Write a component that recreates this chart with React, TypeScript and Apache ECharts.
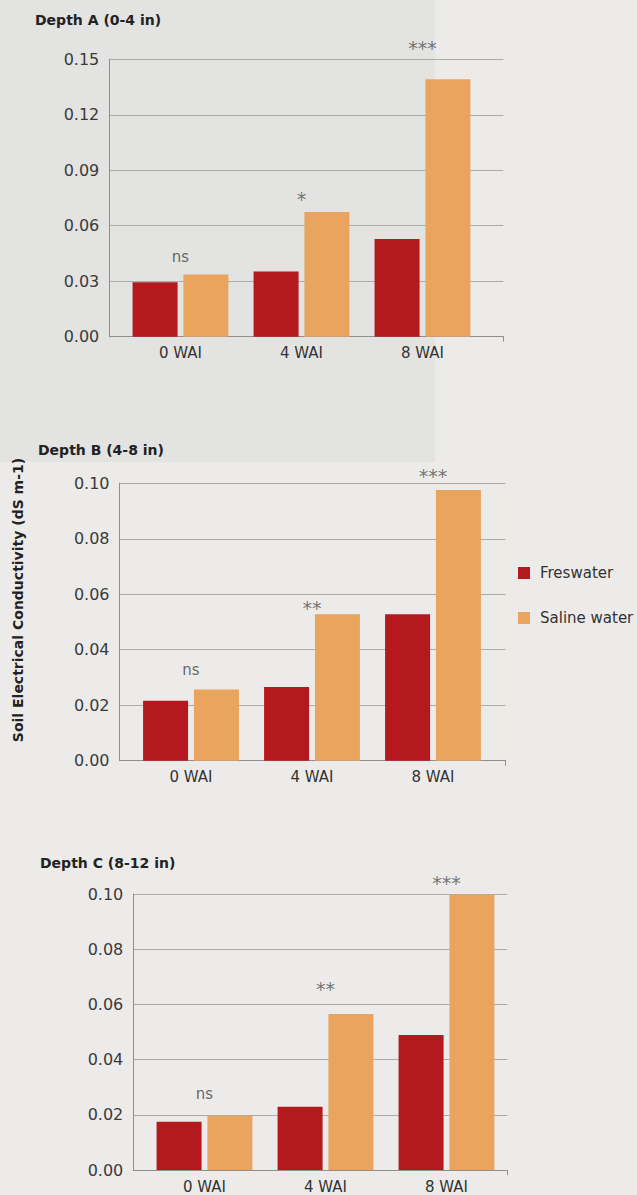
import React, { useEffect, useRef } from "react";
import * as echarts from "echarts";

// ---------- data ----------
const categories = ["0 WAI", "4 WAI", "8 WAI"];
const seriesNames = ["Freswater", "Saline water"];

const freshA = [0.0294, 0.0352, 0.0528];
const salineA = [0.0337, 0.0674, 0.1392];
const freshB = [0.0216, 0.0266, 0.0528];
const salineB = [0.0257, 0.0528, 0.0976];
const freshC = [0.0175, 0.0229, 0.0489];
const salineC = [0.0197, 0.0565, 0.0998];

const sigA = ["ns", "*", "***"];
const sigB = ["ns", "**", "***"];
const sigC = ["ns", "**", "***"];
// height (in dS m-1) at which each significance mark sits
const sigHeightA = [0.0429, 0.0745, 0.156];
const sigHeightB = [0.0328, 0.0551, 0.1028];
const sigHeightC = [0.0275, 0.0656, 0.1039];

const titles = ["Depth A (0-4 in)", "Depth B (4-8 in)", "Depth C (8-12 in)"];
const yMax = [0.15, 0.1, 0.1];
const yInterval = [0.03, 0.02, 0.02];
const yTitle = "Soil Electrical Conductivity (dS m-1)";

// ---------- layout / style ----------
const FONT = "DejaVu Sans";
const RED = "#b3191d";
const ORANGE = "#e9a45e";
const layout = [
  { axisLeft: 109.3, axisWidth: 394, barLeft: 120, top: 59.3, height: 277.4, titleX: 35, titleY: 20 },
  { axisLeft: 119.5, axisWidth: 386, barLeft: 130.5, top: 483.3, height: 277.4, titleX: 38, titleY: 450 },
  { axisLeft: 133.3, axisWidth: 373.7, barLeft: 144, top: 894, height: 276, titleX: 40, titleY: 863 },
];
const BAR_GRID_WIDTH = 363;

const panels = [
  { fresh: freshA, saline: salineA, sig: sigA, sigH: sigHeightA },
  { fresh: freshB, saline: salineB, sig: sigB, sigH: sigHeightB },
  { fresh: freshC, saline: salineC, sig: sigC, sigH: sigHeightC },
];

function buildOption() {
  const grid: any[] = [];
  const xAxis: any[] = [];
  const yAxis: any[] = [];
  const series: any[] = [];
  const graphic: any[] = [
    {
      type: "rect",
      z: -10,
      silent: true,
      shape: { x: 0, y: 0, width: 435, height: 462 },
      style: { fill: "#e3e3e2" },
    },
    {
      type: "text",
      x: 18,
      y: 600,
      rotation: Math.PI / 2,
      style: {
        text: yTitle,
        font: `bold 14px "${FONT}"`,
        fill: "#222",
        textAlign: "center",
        textVerticalAlign: "middle",
      },
    },
  ];

  panels.forEach((p, i) => {
    const L = layout[i];
    const gA = 2 * i;
    const gB = 2 * i + 1;
    grid.push({ left: L.axisLeft, top: L.top, width: L.axisWidth, height: L.height });
    grid.push({ left: L.barLeft, top: L.top, width: BAR_GRID_WIDTH, height: L.height });

    xAxis.push({
      type: "value",
      gridIndex: gA,
      min: 0,
      max: 1,
      interval: 1,
      axisLine: { show: true, onZero: false, lineStyle: { color: "#8f8f8f", width: 1 } },
      axisTick: { show: true, customValues: [1], length: 5, lineStyle: { color: "#8f8f8f" } },
      axisLabel: { show: false },
      splitLine: { show: false },
    });
    xAxis.push({
      type: "category",
      gridIndex: gB,
      data: categories,
      axisLine: { show: false },
      axisTick: { show: false },
      axisLabel: { fontSize: 15, color: "#333", margin: 9, fontFamily: FONT },
    });

    yAxis.push({
      type: "value",
      gridIndex: gA,
      min: 0,
      max: yMax[i],
      interval: yInterval[i],
      axisLine: { show: true, lineStyle: { color: "#8f8f8f", width: 1 } },
      axisTick: { show: false },
      axisLabel: {
        fontSize: 16,
        color: "#3a3a3a",
        margin: 10,
        fontFamily: FONT,
        formatter: (v: number) => v.toFixed(2),
      },
      splitLine: { show: true, lineStyle: { color: "#ababab", width: 1 } },
    });
    yAxis.push({
      type: "value",
      gridIndex: gB,
      min: 0,
      max: yMax[i],
      interval: yInterval[i],
      show: false,
    });

    series.push({
      type: "bar",
      name: seriesNames[0],
      xAxisIndex: gB,
      yAxisIndex: gB,
      data: p.fresh,
      barWidth: 45,
      barGap: "13%",
      itemStyle: { color: RED },
      silent: true,
    });
    series.push({
      type: "bar",
      name: seriesNames[1],
      xAxisIndex: gB,
      yAxisIndex: gB,
      data: p.saline,
      barWidth: 45,
      barGap: "13%",
      itemStyle: { color: ORANGE },
      silent: true,
    });
    series.push({
      type: "scatter",
      xAxisIndex: gB,
      yAxisIndex: gB,
      data: categories.map((_, j) => [j, p.sigH[j]]),
      symbol: "circle",
      symbolSize: 1,
      clip: false,
      silent: true,
      itemStyle: { color: "rgba(0,0,0,0)" },
      label: {
        show: true,
        position: "inside",
        fontSize: 15,
        color: "#444",
        fontFamily: FONT,
        formatter: (q: any) => {
          const s = p.sig[q.dataIndex];
          return s.charAt(0) === "*" ? `{ast|${s}}` : s;
        },
        rich: {
          ast: { fontSize: 19, color: "#555", fontFamily: FONT },
        },
      },
    });

    graphic.push({
      type: "text",
      x: L.titleX,
      y: L.titleY,
      style: {
        text: titles[i],
        font: `bold 14px "${FONT}"`,
        fill: "#222",
        textAlign: "left",
        textVerticalAlign: "middle",
      },
    });
  });

  return {
    animation: false,
    backgroundColor: "#ecebea",
    textStyle: { fontFamily: FONT },
    grid,
    xAxis,
    yAxis,
    series,
    graphic,
    legend: {
      data: seriesNames,
      orient: "vertical",
      left: 518,
      top: 564,
      padding: 0,
      itemWidth: 12,
      itemHeight: 12,
      itemGap: 27,
      icon: "rect",
      selectedMode: false,
      textStyle: { fontSize: 15, color: "#333", lineHeight: 18, fontFamily: FONT, padding: [0, 0, 0, 5] },
    },
  };
}

export default function App() {
  const ref = useRef<HTMLDivElement>(null);
  useEffect(() => {
    if (!ref.current) return;
    const chart = echarts.init(ref.current, undefined, { renderer: "svg" });
    chart.setOption(buildOption() as any);
    return () => chart.dispose();
  }, []);
  return (
    <div
      ref={ref}
      style={{ position: "absolute", left: 0, top: 0, width: 637, height: 1195 }}
    />
  );
}
